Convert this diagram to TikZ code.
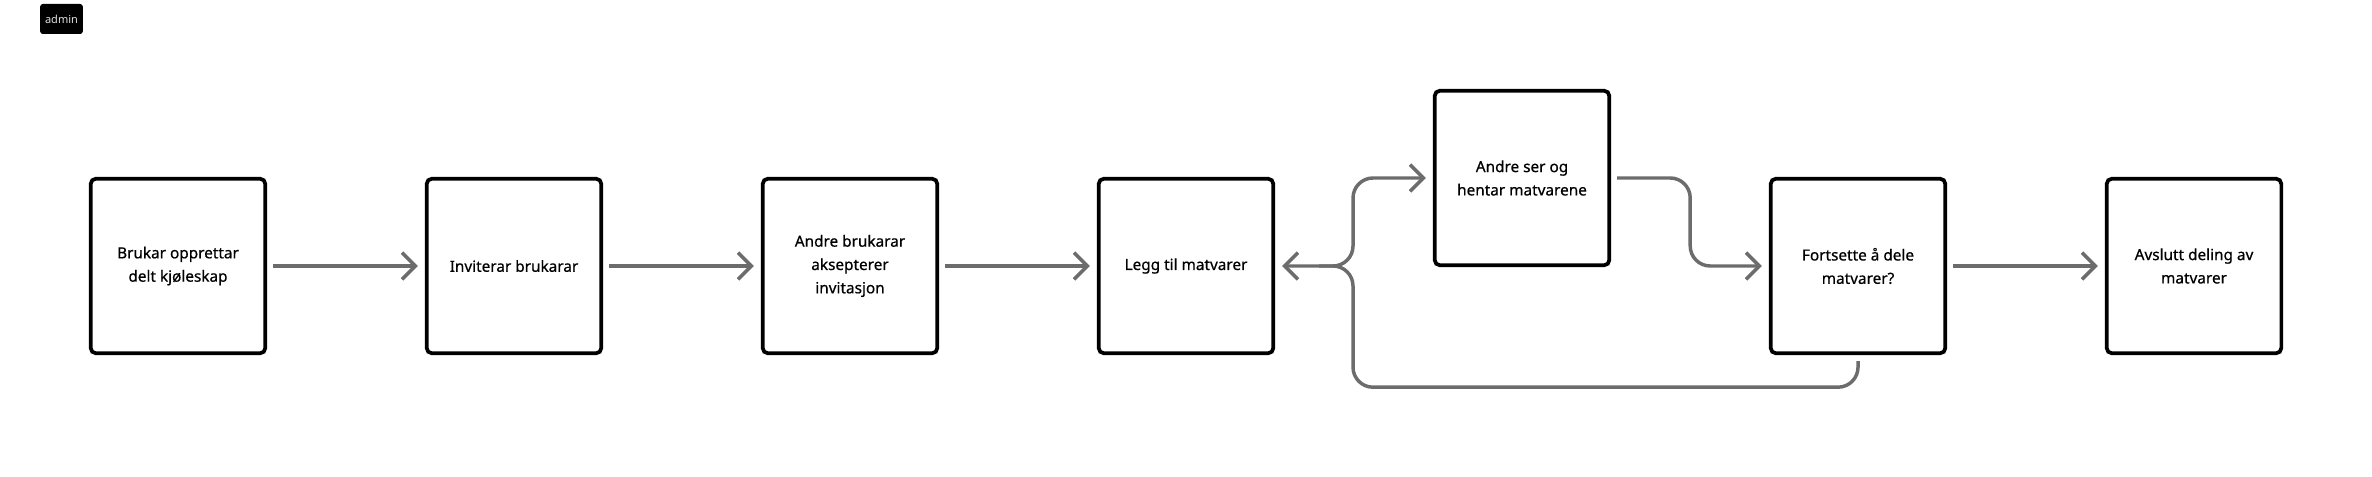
\documentclass[tikz,border=0pt]{standalone}
\usepackage{fontspec}
\setmainfont{Noto Sans}
\newfontfamily\boxfont{Noto Sans}[FakeBold = 0.6]
\usetikzlibrary{arrows.meta, calc}
\definecolor{arrowgrey}{RGB}{108,108,108}

\begin{document}
\begin{tikzpicture}[x = 0.75pt, y = -0.75pt,
  box/.style = {draw = black, line width = 2.8pt, rounded corners = 4pt, minimum width = 131pt, minimum height = 131pt, inner sep = 0pt, align = center, text = black, font = \boxfont\fontsize{11.5}{17.5}\selectfont},
  flow/.style = {draw = arrowgrey, line width = 2.6pt, -{Straight Barb[length = 10pt, width = 20pt]}, shorten < = 4.5pt, shorten > = 5.25pt}]
\useasboundingbox (0, 0) rectangle (2372, 477);

\node[fill = black, rounded corners = 2pt, minimum width = 32pt, minimum height = 22.5pt, inner sep = 0pt, text = black!12, font = \fontsize{8.25}{10}\selectfont] (admin) at (61.5, 19) {admin};

\node[box] (opprett) at (178, 266) {Brukar opprettar\\delt kjøleskap};
\node[box] (inviter) at (514, 266) {Inviterar brukarar};
\node[box] (aksept) at (850, 266) {Andre brukarar\\aksepterer\\invitasjon};
\node[box] (legg) at (1186, 266) {Legg til matvarer};
\node[box] (hent) at (1522, 178) {Andre ser og\\hentar matvarene};
\node[box] (fortsett) at (1858, 266) {Fortsette å dele\\matvarer?};
\node[box] (avslutt) at (2194, 266) {Avslutt deling av\\matvarer};

\coordinate (split) at (1353, 266);

\draw[flow] (opprett) -- (inviter);
\draw[flow] (inviter) -- (aksept);
\draw[flow] (aksept) -- (legg);
\draw[flow, rounded corners = 15pt] ($(split) + (-40, 0)$) -- (split) |- (hent.west);
\draw[flow, rounded corners = 15pt] (hent.east) -- ++(79, 0) |- (fortsett.west);
\draw[flow, rounded corners = 15pt] (fortsett.south) -- ++(0, 32) -| (split) -- (legg.east);
\draw[flow] (fortsett) -- (avslutt);
\end{tikzpicture}
\end{document}
